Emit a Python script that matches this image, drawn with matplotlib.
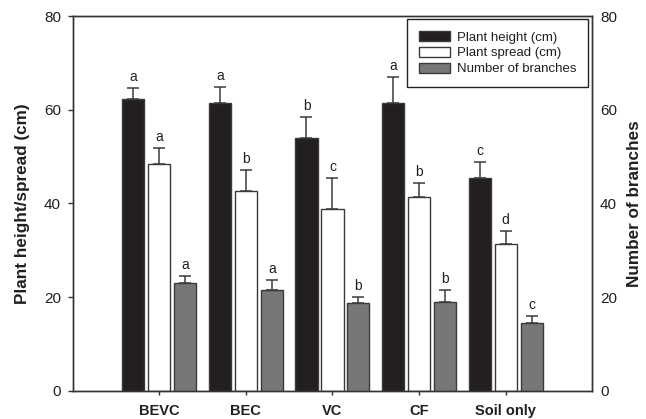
import numpy as np
import matplotlib
matplotlib.use("Agg")
import matplotlib.pyplot as plt

plt.rcParams['font.family'] = ['Liberation Sans', 'DejaVu Sans']

treatments = ["BEVC", "BEC", "VC", "CF", "Soil only"]

height = [62.2, 61.4, 53.9, 61.4, 45.5]
height_err = [2.5, 3.4, 4.6, 5.6, 3.3]
height_letters = ["a", "a", "b", "a", "c"]

spread = [48.3, 42.6, 38.7, 41.4, 31.4]
spread_err = [3.5, 4.6, 6.7, 3.0, 2.8]
spread_letters = ["a", "b", "c", "b", "d"]

branches = [23.1, 21.6, 18.8, 19.0, 14.5]
branches_err = [1.4, 2.0, 1.3, 2.5, 1.5]
branches_letters = ["a", "a", "b", "b", "c"]

x = np.arange(1, len(treatments) + 1)
w = 0.255
off = 0.3
edge = "#3a3a3a"
txt = "#231f20"

fig = plt.figure(figsize=(6.46, 4.19), dpi=100)
ax = fig.add_axes([0.1125, 0.0675, 0.8043, 0.8943])
ax2 = ax.twinx()

ekw = dict(ecolor=edge, elinewidth=1.1, capsize=4, capthick=1.1)

b1 = ax.bar(x - off, height, w, color="#231f20", edgecolor=edge, linewidth=1)
ax.errorbar(x - off, height, yerr=[np.zeros(5), height_err], fmt="none", **ekw)
b2 = ax.bar(x, spread, w, color="white", edgecolor=edge, linewidth=1)
ax.errorbar(x, spread, yerr=[np.zeros(5), spread_err], fmt="none", **ekw)
b3 = ax2.bar(x + off, branches, w, color="#77777a", edgecolor=edge, linewidth=1)
ax2.errorbar(x + off, branches, yerr=[np.zeros(5), branches_err], fmt="none", **ekw)

for xs, vals, errs, labs, a in [(x - off, height, height_err, height_letters, ax),
                                (x, spread, spread_err, spread_letters, ax),
                                (x + off, branches, branches_err, branches_letters, ax2)]:
    for xi, v, e, l in zip(xs, vals, errs, labs):
        a.annotate(l, (xi, v + e), xytext=(0, 5), textcoords="offset points",
                   ha="center", va="baseline", fontsize=10, color=txt)

for a in (ax, ax2):
    a.set_ylim(0, 80)
    a.set_yticks([0, 20, 40, 60, 80])
    for s in a.spines.values():
        s.set_color("#333333")
        s.set_linewidth(1)

ax.tick_params(axis="y", direction="out", length=3.6, width=1, colors="#333333",
               labelsize=11, labelcolor=txt, pad=4.8)
ax2.tick_params(axis="y", direction="out", length=0, width=1, colors="#333333",
                labelsize=11, labelcolor=txt, pad=5.5)

ax.set_xlim(0, 6)
ax.set_xticks(x)
ax.set_xticklabels(treatments, fontweight="bold", fontsize=10.5)
ax.tick_params(axis="x", direction="out", length=3, width=1, colors="#333333",
               pad=6.3, labelcolor=txt)

ax.set_ylabel("Plant height/spread (cm)", fontsize=12.3, fontweight="bold",
              labelpad=10, color=txt)
ax2.set_ylabel("Number of branches", fontsize=12.3, fontweight="bold",
               labelpad=7, color=txt)

leg = ax2.legend([b1, b2, b3], ["Plant height (cm)", "Plant spread (cm)", "Number of branches"],
                 loc="upper right", bbox_to_anchor=(0.9923, 0.991), borderaxespad=0,
                 fontsize=9.5, fancybox=False, framealpha=1, edgecolor="#222222",
                 handlelength=2.35, handleheight=0.76, labelspacing=0.25,
                 borderpad=0.9, handletextpad=0.53)
leg.get_frame().set_linewidth(1)
for t in leg.get_texts():
    t.set_color(txt)

fig.savefig("out.png", dpi=100)
